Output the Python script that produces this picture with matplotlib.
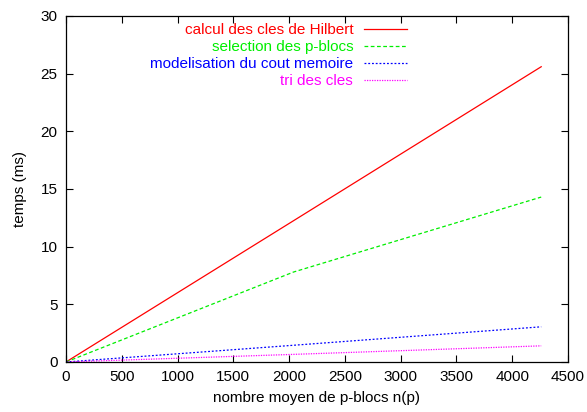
import matplotlib
matplotlib.use("Agg")
import matplotlib.pyplot as plt

plt.rcParams["font.family"] = ["Liberation Sans", "DejaVu Sans"]
plt.rcParams["font.size"] = 11

# temps mesures en fonction du nombre moyen de p-blocs
n_pblocs = [0, 2040, 4260]
hilbert = [0, 12.25, 25.6]
selection = [0, 7.8, 14.3]
modelisation = [0, 1.45, 3.05]
tri = [0, 0.66, 1.4]

labels = [
    "calcul des cles de Hilbert",
    "selection des p-blocs",
    "modelisation du cout memoire",
    "tri des cles",
]
colours = ["#ff0000", "#00ee00", "#0000ff", "#ff00ff"]
styles = ["-", (0, (3, 2)), (0, (1.5, 1.5)), (0, (1, 1))]

fig = plt.figure(figsize=(5.87, 4.12), dpi=100)
ax = fig.add_axes([0.1124, 0.1214, 0.8552, 0.8398])

for ys, lab, c, ls in zip([hilbert, selection, modelisation, tri], labels, colours, styles):
    ax.plot(n_pblocs, ys, color=c, linestyle=ls, linewidth=0.9, label=lab)

ax.set_xlim(0, 4500)
ax.set_ylim(0, 30)
ax.set_xticks(range(0, 4501, 500))
ax.set_yticks(range(0, 31, 5))
ax.tick_params(direction="in", length=5, width=0.8, top=True, right=True,
               labelsize=11, pad=6)
for side in ax.spines.values():
    side.set_linewidth(0.9)

ax.set_xlabel("nombre moyen de p-blocs n(p)", labelpad=5)
ax.set_ylabel("temps (ms)", labelpad=10)

leg = ax.legend(loc="upper right", bbox_to_anchor=(407 / 587, 1 - 23 / 412),
                bbox_transform=fig.transFigure, frameon=False, markerfirst=False,
                handlelength=2.8, handletextpad=0.72, labelspacing=0.2,
                borderpad=0, borderaxespad=0)
for txt, c in zip(leg.get_texts(), colours):
    txt.set_color(c)

fig.savefig("out.png", dpi=100)
